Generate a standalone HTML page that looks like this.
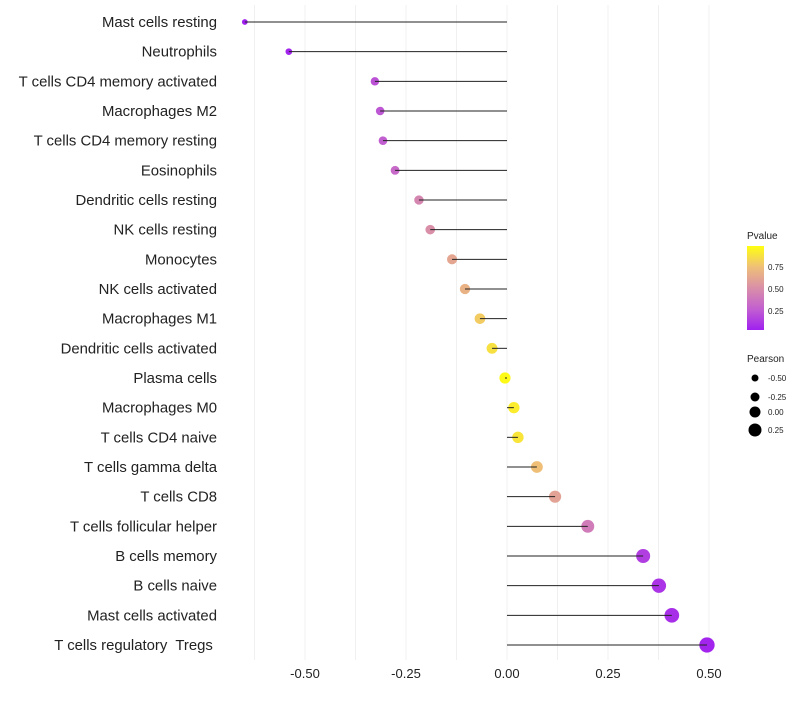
<!DOCTYPE html>
<html><head><meta charset="utf-8"><style>
body{margin:0;background:#fff;font-family:"Liberation Sans",sans-serif}
text{white-space:pre}
</style></head><body>
<svg id="chart" width="800" height="700" xmlns="http://www.w3.org/2000/svg">
<defs><linearGradient id="pg" x1="0" y1="1" x2="0" y2="0">
<stop offset="0" stop-color="#A020F0"/><stop offset="0.25" stop-color="#C25FD0"/><stop offset="0.5" stop-color="#D98FA8"/><stop offset="0.75" stop-color="#EFBF78"/><stop offset="1" stop-color="#FFFF10"/>
</linearGradient></defs>
<g id="grid"></g><g id="points"></g><g id="marks"></g><g id="labels"></g>
<g>
<text x="747" y="239" font-size="10" fill="#222">Pvalue</text>
<rect x="747" y="246" width="17" height="84" fill="url(#pg)"/>
<text x="768" y="270" font-size="8" fill="#222">0.75</text>
<text x="768" y="292" font-size="8" fill="#222">0.50</text>
<text x="768" y="314" font-size="8" fill="#222">0.25</text>
</g>
<g>
<text x="747" y="362" font-size="10" fill="#222">Pearson</text>
<circle cx="755" cy="378" r="3.5"/><text x="768" y="381" font-size="8" fill="#222">-0.50</text>
<circle cx="755" cy="397" r="4.5"/><text x="768" y="400" font-size="8" fill="#222">-0.25</text>
<circle cx="755" cy="412" r="5.5"/><text x="768" y="415" font-size="8" fill="#222">0.00</text>
<circle cx="755" cy="430" r="6.5"/><text x="768" y="433" font-size="8" fill="#222">0.25</text>
</g>
</svg>
<script>
const categories=["Mast cells resting","Neutrophils","T cells CD4 memory activated","Macrophages M2","T cells CD4 memory resting","Eosinophils","Dendritic cells resting","NK cells resting","Monocytes","NK cells activated","Macrophages M1","Dendritic cells activated","Plasma cells","Macrophages M0","T cells CD4 naive","T cells gamma delta","T cells CD8","T cells follicular helper","B cells memory","B cells naive","Mast cells activated","T cells regulatory  Tregs "];
const pearson=[-0.649,-0.54,-0.327,-0.314,-0.307,-0.277,-0.218,-0.19,-0.136,-0.104,-0.067,-0.037,-0.005,0.017,0.027,0.074,0.119,0.2,0.337,0.376,0.408,0.495];
const pvalue=[0.0,0.02,0.2,0.22,0.25,0.3,0.45,0.5,0.62,0.68,0.8,0.88,0.98,0.93,0.9,0.75,0.6,0.4,0.12,0.08,0.06,0.02];
const xTicks=[-0.5,-0.25,0,0.25,0.5];
const xTickLabels=["-0.50","-0.25","0.00","0.25","0.50"];
const NS="http://www.w3.org/2000/svg";
const xs=v=>507+v*404;
const ys=i=>22+i*(623/21);
const stops=[[0,[160,32,240]],[0.25,[194,95,208]],[0.5,[217,143,168]],[0.75,[239,191,120]],[1,[255,255,16]]];
function col(p){for(let k=1;k<stops.length;k++){if(p<=stops[k][0]){const a=stops[k-1],b=stops[k],t=(p-a[0])/(b[0]-a[0]);return "rgb("+a[1].map((c,j)=>Math.round(c+(b[1][j]-c)*t)).join(",")+")";}}return "rgb(255,255,16)";}
function mk(t,at,parent){const e=document.createElementNS(NS,t);for(const k in at)e.setAttribute(k,at[k]);parent.appendChild(e);return e;}
const grid=document.getElementById('grid'),marks=document.getElementById('marks'),points=document.getElementById('points'),labels=document.getElementById('labels');
for(let v=-0.625;v<=0.51;v+=0.125){const l=mk('line',{x1:xs(v),x2:xs(v),y1:5,y2:660,stroke:'#f0f0f0','stroke-width':1},grid);

}
xTicks.forEach((v,i)=>{const t=mk('text',{x:xs(v),y:678,'font-size':13,'text-anchor':'middle',fill:'#222'},labels);t.textContent=xTickLabels[i];

});
categories.forEach((c,i)=>{const y=ys(i);
const t=mk('text',{x:217,y:y+5,'font-size':14.9,'text-anchor':'end',fill:'#222'},labels);t.textContent=c;


const r=Math.max(1.6,5.6+4.2*pearson[i]);
const d=mk('circle',{cx:xs(pearson[i]),cy:y,r:r,fill:col(pvalue[i])},points);


const l=mk('line',{x1:xs(0),x2:xs(pearson[i]),y1:y,y2:y,stroke:'#222','stroke-width':1},marks);

});
</script>
</body></html>
